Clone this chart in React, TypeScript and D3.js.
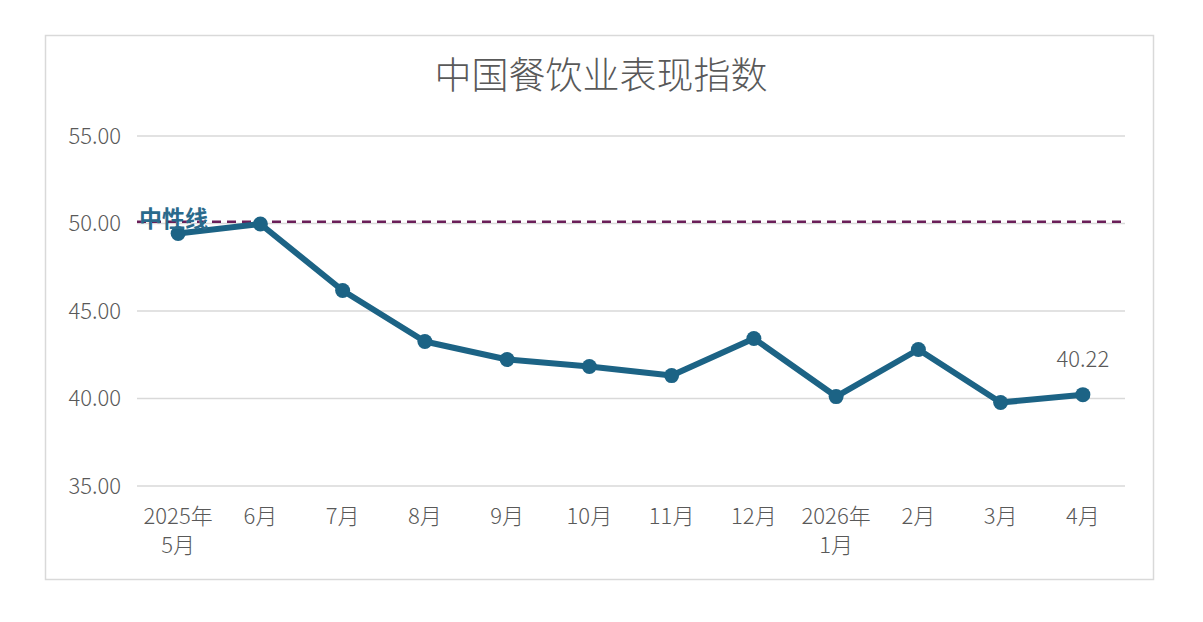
import React from "react";
import * as d3 from "d3";

const categories: string[][] = [
  ["2025年", "5月"], ["6月"], ["7月"], ["8月"], ["9月"], ["10月"],
  ["11月"], ["12月"], ["2026年", "1月"], ["2月"], ["3月"], ["4月"],
];
const values: number[] = [49.43, 49.97, 46.17, 43.26, 42.23, 41.83, 41.31, 43.43, 40.11, 42.8, 39.77, 40.22];
const yTicks: number[] = [35, 40, 45, 50, 55];
const neutralValue = 50.1;
const title = "中国餐饮业表现指数";
const neutralLabel = "中性线";

const W = 1203, H = 622;
const FONT = "'Noto Sans CJK SC', 'Noto Sans', sans-serif";

export default function App() {
  const x = d3.scaleBand<number>().domain(d3.range(categories.length)).range([137, 1124]);
  const y = d3.scaleLinear().domain([35, 55]).range([486, 136]);
  const cx = (i: number) => (x(i) as number) + x.bandwidth() / 2;
  const line = d3.line<number>().x((_, i) => cx(i)).y((d) => y(d));
  const last = values.length - 1;

  return (
    <div style={{ position: "fixed", left: 0, top: 0, width: W, height: H, background: "#fff" }}>
      <svg width={W} height={H} style={{ display: "block", fontFamily: FONT }}>
        <rect x={0} y={0} width={W} height={H} fill="#fff" />
        <rect x={45.5} y={35.5} width={1108} height={544} fill="#fff" stroke="#d9d9d9" strokeWidth={1.5} />
        <text x={601} y={79} textAnchor="middle" dominantBaseline="middle" fontSize={37} fontWeight={300} fill="#595959">{title}</text>
        {yTicks.map((t) => (
          <g key={t}>
            <line x1={137} x2={1125} y1={y(t)} y2={y(t)} stroke="#d9d9d9" strokeWidth={1.5} />
            <text x={121} y={y(t) + 2} textAnchor="end" dominantBaseline="middle" fontSize={22} fontWeight={300} fill="#595959">{t.toFixed(2)}</text>
          </g>
        ))}
        {categories.map((c, i) => (
          <text key={i} x={cx(i)} y={518} textAnchor="middle" dominantBaseline="middle" fontSize={22} fontWeight={300} fill="#595959">
            {c.map((s, j) => (
              <tspan key={j} x={cx(i)} dy={j === 0 ? 0 : 29}>{s}</tspan>
            ))}
          </text>
        ))}
        <line x1={137} x2={1125} y1={y(neutralValue)} y2={y(neutralValue)} stroke="#6a1e58" strokeWidth={2.5} strokeDasharray="9 6" />
        <path d={line(values) || ""} fill="none" stroke="#1c6385" strokeWidth={6} strokeLinejoin="round" />
        {values.map((v, i) => (
          <circle key={i} cx={cx(i)} cy={y(v)} r={7.5} fill="#1c6385" />
        ))}
        <text x={139} y={221} dominantBaseline="middle" fontSize={23} fontWeight={700} fill="#2a6a8c">{neutralLabel}</text>
        <text x={cx(last)} y={361} textAnchor="middle" dominantBaseline="middle" fontSize={22} fontWeight={300} fill="#595959">{values[last].toFixed(2)}</text>
      </svg>
    </div>
  );
}
